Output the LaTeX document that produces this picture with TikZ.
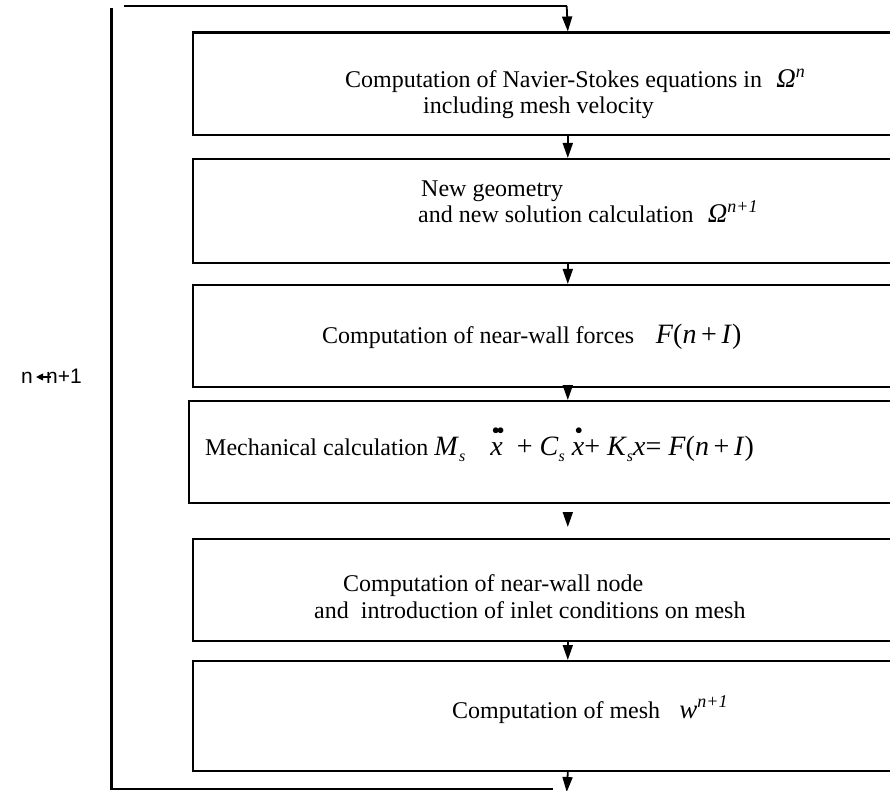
\documentclass[tikz,border=0pt]{standalone}
\usepackage{fontspec}
\usepackage{graphicx}
\setmainfont{Liberation Serif}
\newfontfamily\lsans{Liberation Sans}
\usetikzlibrary{arrows.meta}
\newcommand\myddx{\leavevmode\rlap{\raisebox{0.74em}{\kern0.06em\scalebox{0.6}{$\bullet$}\kern-0.1em\scalebox{0.6}{$\bullet$}}}\textit{x}}
\newcommand\mydx{\leavevmode\rlap{\raisebox{0.74em}{\kern0.12em\scalebox{0.6}{$\bullet$}}}\textit{x}}
\newcommand\subs{\raisebox{-0.22em}{\fontsize{16}{16}\selectfont\textit{s}}}
\begin{document}
\begin{tikzpicture}[x=1pt,y=-1pt,
  box/.style={draw,line width=2.2pt,rectangle,inner sep=0pt,minimum width=749.4pt},
  flow/.style={line width=1.8pt,-{Triangle[width=10pt,length=15pt]}},
  loopline/.style={line width=2.6pt},
  txt/.style={anchor=base west,inner sep=0pt,font=\fontsize{24}{28}\selectfont},
  lbltxt/.style={anchor=base west,inner sep=0pt,font=\lsans\fontsize{21}{24}\selectfont}
]
\useasboundingbox (0,0) rectangle (890,791);
\clip (0,0) rectangle (890,791);
% boxes (right edges run off the page)
\node[box,anchor=north west,minimum height=102.5pt] (b1) at (192,31.5) {};
\node[box,anchor=north west,minimum height=104pt] (b2) at (192,158) {};
\node[box,anchor=north west,minimum height=102pt] (b3) at (192,284) {};
\node[box,anchor=north west,minimum height=102pt,minimum width=757.4pt] (b4) at (188,400) {};
\node[box,anchor=north west,minimum height=102pt] (b5) at (192,538) {};
\node[box,anchor=north west,minimum height=110pt] (b6) at (192,660) {};
% texts
\node[txt] (t1a) at (345,88) {Computation of Navier-Stokes equations in\hspace{0.6em}{\fontsize{27}{27}\selectfont\textit{Ω}}\raisebox{0.42em}{\fontsize{18}{18}\selectfont\textit{n}}};
\node[txt] (t1b) at (423,114) {including mesh velocity};
\node[txt] (t2a) at (421,197) {New geometry};
\node[txt] (t2b) at (418,223) {and new solution calculation\hspace{0.6em}{\fontsize{27}{27}\selectfont\textit{Ω}}\raisebox{0.42em}{\fontsize{18}{18}\selectfont\textit{n+1}}};
\node[txt] (t3) at (322,343) {Computation of near-wall forces\hspace{0.9em}{\fontsize{28}{28}\selectfont\textit{F}(\textit{n}\,+\,\textit{I})}};
\node[txt] (t4) at (205,455) {Mechanical calculation {\fontsize{28}{28}\selectfont\textit{M}\subs\hspace{0.9em}\myddx\ \ + \textit{C}\subs\ \mydx+ \textit{K}\subs\textit{x}= \textit{F}(\textit{n}\,+\,\textit{I})}};
\node[txt] (t5a) at (343,591) {Computation of near-wall node};
\node[txt] (t5b) at (314,618) {and\ \ introduction of inlet conditions on mesh};
\node[txt] (t6) at (452,718) {Computation of mesh\hspace{0.8em}{\fontsize{27}{27}\selectfont\textit{w}}\raisebox{0.42em}{\fontsize{18}{18}\selectfont\textit{n+1}}};
% loop label
\node[lbltxt] (ln) at (21,383) {n};
\node[lbltxt] (ln1) at (46,383) {n+1};
\draw[line width=1.1pt,-{Triangle[width=7pt,length=7pt]}] ([xshift=5pt,yshift=6pt]ln1.base west) -- ([xshift=3pt,yshift=6pt]ln.base east);
% connectors between boxes
\draw[flow] (b1.south) -- (b2.north);
\draw[flow] (b2.south) -- (b3.north);
\draw[flow] (b3.south) -- (b4.north);
\draw[flow] ([yshift=-8pt]b4.south) -- ([yshift=11pt]b5.north);
\draw[flow] (b5.south) -- (b6.north);
% loop back
\coordinate (lt) at (111.7,8);
\coordinate (lb) at (111.7,789);
\coordinate (le) at (553,789);
\coordinate (ts) at (124,6);
\coordinate (ps) at (566.7,6);
\coordinate (bo) at (566.7,792);
\draw[loopline] (lt) -- (lb) -- (le);
\draw[line width=2pt] (ts) -- (ps);
\draw[flow] (ps) -- (b1.north);
\draw[flow] (b6.south) -- (bo);
\end{tikzpicture}
\end{document}
